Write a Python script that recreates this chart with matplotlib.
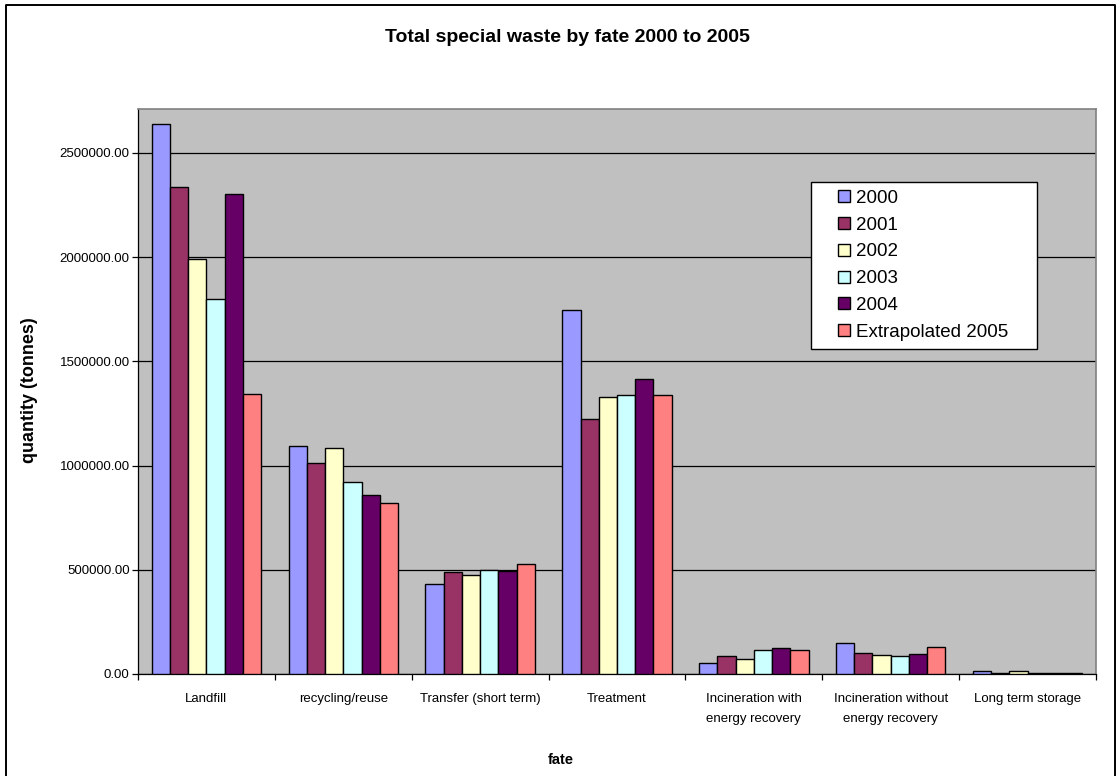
import matplotlib
matplotlib.use('Agg')
import matplotlib.pyplot as plt
from matplotlib.patches import Rectangle
from matplotlib.lines import Line2D
from matplotlib.ticker import FuncFormatter, FixedLocator
import numpy as np

plt.rcParams['font.family'] = ['Liberation Sans', 'DejaVu Sans']

fates = ['Landfill', 'recycling/reuse', 'Transfer (short term)', 'Treatment',
         'Incineration with\nenergy recovery', 'Incineration without\nenergy recovery',
         'Long term storage']
years = ['2000', '2001', '2002', '2003', '2004', 'Extrapolated 2005']

q2000 = [2637000, 1093000, 432000, 1745000, 51000, 149000, 12000]
q2001 = [2334000, 1012000, 487000, 1224000, 86000, 101000, 5000]
q2002 = [1990000, 1084000, 474000, 1329000, 72000, 93000, 12000]
q2003 = [1799000, 921000, 501000, 1337000, 115000, 86000, 4000]
q2004 = [2300000, 859000, 494000, 1413000, 123000, 94000, 4000]
q2005 = [1342000, 818000, 530000, 1337000, 114000, 130000, 4000]
series = [q2000, q2001, q2002, q2003, q2004, q2005]

colors = ['#9999FF', '#993366', '#FFFFCC', '#CCFFFF', '#660066', '#FF8080']

W, H = 1120, 776
fig = plt.figure(figsize=(W / 100, H / 100), dpi=100)

# chart border (left, top, right)
fig.lines.append(Line2D([6/W, 6/W, 1115/W, 1115/W], [0, 1 - 5/H, 1 - 5/H, 0],
                        transform=fig.transFigure, color='black', linewidth=1.4))

ax = fig.add_axes([138/W, 1 - 674/H, (1096-138)/W, (674-109)/H])
ax.set_facecolor('#C0C0C0')

x = np.arange(len(fates))
w = 1 / 7.5
for j, (vals, c, lab) in enumerate(zip(series, colors, years)):
    ax.bar(x + (j - 2.5) * w, vals, width=w, color=c, edgecolor='black',
           linewidth=1.0, label=lab, zorder=3)

ax.set_xlim(-0.5, len(fates) - 0.5)
ax.set_ylim(0, 2710000)
ax.set_yticks(np.arange(0, 2500001, 500000))
ax.yaxis.set_major_formatter(FuncFormatter(lambda v, p: '%.2f' % v))
ax.grid(axis='y', color='black', linewidth=0.9, zorder=1)
ax.set_axisbelow(True)

ax.set_xticks(x)
ax.set_xticklabels(fates, fontsize=9.5, linespacing=1.85)
ax.xaxis.set_minor_locator(FixedLocator(np.arange(-0.5, len(fates), 1.0)))
ax.tick_params(axis='x', which='major', length=0, pad=14)
ax.tick_params(axis='x', which='minor', length=4, width=0.9, direction='out')
ax.tick_params(axis='y', length=4, width=0.9, pad=2, labelsize=9.5)

for s in ['left', 'bottom']:
    ax.spines[s].set_color('black')
    ax.spines[s].set_linewidth(0.9)
for s in ['top', 'right']:
    ax.spines[s].set_color('#808080')
    ax.spines[s].set_linewidth(1.2)

# legend box drawn separately so the padding can be uneven
ax.add_patch(Rectangle((811/W, 1 - 349/H), (1037-811)/W, (349-182)/H,
                       transform=fig.transFigure, facecolor='white',
                       edgecolor='black', linewidth=1.0, zorder=5, clip_on=False))
leg = ax.legend(loc='upper left', bbox_to_anchor=(838/W, 1 - 190/H),
                bbox_transform=fig.transFigure, fontsize=13.5, frameon=False,
                handlelength=0.62, handleheight=0.62, handletextpad=0.35,
                labelspacing=0.52, borderpad=0, borderaxespad=0)
leg.set_zorder(6)

fig.text(0.507, 1 - 37/H, 'Total special waste by fate 2000 to 2005',
         ha='center', va='center', fontsize=14, fontweight='bold')
fig.text(30/W, 1 - 390/H, 'quantity (tonnes)', rotation=90,
         ha='center', va='center', fontsize=13, fontweight='bold')
fig.text(561/W, 1 - 760/H, 'fate', ha='center', va='center',
         fontsize=10.5, fontweight='bold')

fig.savefig('out.png', dpi=100)
